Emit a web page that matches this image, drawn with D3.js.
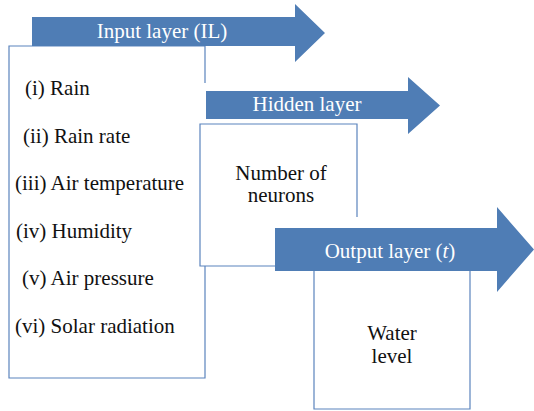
<!DOCTYPE html>
<html><head><meta charset="utf-8">
<script src="https://cdn.jsdelivr.net/npm/d3@7"></script>
<style>html,body{margin:0;padding:0;background:#fff;}svg{display:block;}
text{font-family:"Liberation Serif","Times New Roman","DejaVu Serif","Noto Serif",serif;}</style>
</head><body>
<script>
// Content
const inputItems = ["(i) Rain","(ii) Rain rate","(iii) Air temperature","(iv) Humidity","(v) Air pressure","(vi) Solar radiation"];
const layerTitles = ["Input layer (IL)","Hidden layer","Output layer"];
const hiddenLabel = ["Number of","neurons"];
const outputLabel = ["Water","level"];

// Layout
const W=534,H=411;
const arrowColor="#4f7db5", boxColor="#5b84bd";
const svg=d3.select("body").append("svg").attr("width",W).attr("height",H);

const arrows=[
 {x0:32,x1:295,y0:17,y1:46,hy0:4,hy1:62,tip:325},
 {x0:206,x1:408,y0:91,y1:119,hy0:77,hy1:134,tip:440},
 {x0:275,x1:497,y0:228,y1:271,hy0:207,hy1:292,tip:534}
];
function arrowPath(a){const p=d3.path();const my=(a.hy0+a.hy1)/2;
 p.moveTo(a.x0,a.y0);p.lineTo(a.x1,a.y0);p.lineTo(a.x1,a.hy0);p.lineTo(a.tip,my);p.lineTo(a.x1,a.hy1);p.lineTo(a.x1,a.y1);p.lineTo(a.x0,a.y1);p.closePath();return p.toString();}
const line=d3.line();

svg.append("rect").attr("x",9).attr("y",46).attr("width",196).attr("height",332).attr("fill","#fff");
svg.append("path").attr("d",line([[205,83],[205,46],[9,46],[9,378],[205,378],[205,266]])).attr("fill","none").attr("stroke",boxColor).attr("stroke-width",1.2);
svg.append("path").attr("d",arrowPath(arrows[0])).attr("fill",arrowColor);
svg.append("path").attr("d",arrowPath(arrows[1])).attr("fill",arrowColor);
svg.append("rect").attr("x",200).attr("y",124).attr("width",157).attr("height",142).attr("fill","#fff");
svg.append("path").attr("d",line([[357,217],[357,124],[200,124],[200,266],[275,266]])).attr("fill","none").attr("stroke",boxColor).attr("stroke-width",1.2);
svg.append("rect").attr("x",314).attr("y",271).attr("width",156).attr("height",138).attr("fill","#fff");
svg.append("path").attr("d",line([[314,271],[314,409],[470,409],[470,271]])).attr("fill","none").attr("stroke",boxColor).attr("stroke-width",1.2);
svg.append("path").attr("d",arrowPath(arrows[2])).attr("fill",arrowColor);

const FS=21;
const tpos=[[162,38],[307,111],[390,258]];
layerTitles.forEach((t,i)=>{
  const te=svg.append("text").attr("x",tpos[i][0]).attr("y",tpos[i][1]).attr("text-anchor","middle")
   .attr("fill","#fff").attr("font-size",FS).text(t);
  if(i===2){te.append("tspan").text(" (");te.append("tspan").attr("font-style","italic").text("t");te.append("tspan").text(")");}
});

const itemX=[25,23,15,16,22,15];
const yItem=d3.scalePoint().domain(inputItems).range([95,333]);
svg.selectAll("text.item").data(inputItems).enter().append("text").attr("class","item")
 .attr("x",(d,i)=>itemX[i]).attr("y",d=>yItem(d)).attr("font-size",FS).attr("fill","#111").text(d=>d);

hiddenLabel.forEach((t,i)=>svg.append("text").attr("x",281).attr("y",180+i*22).attr("text-anchor","middle").attr("font-size",FS).attr("fill","#111").text(t));
outputLabel.forEach((t,i)=>svg.append("text").attr("x",392).attr("y",340+i*23).attr("text-anchor","middle").attr("font-size",FS).attr("fill","#111").text(t));
</script>
</body></html>
